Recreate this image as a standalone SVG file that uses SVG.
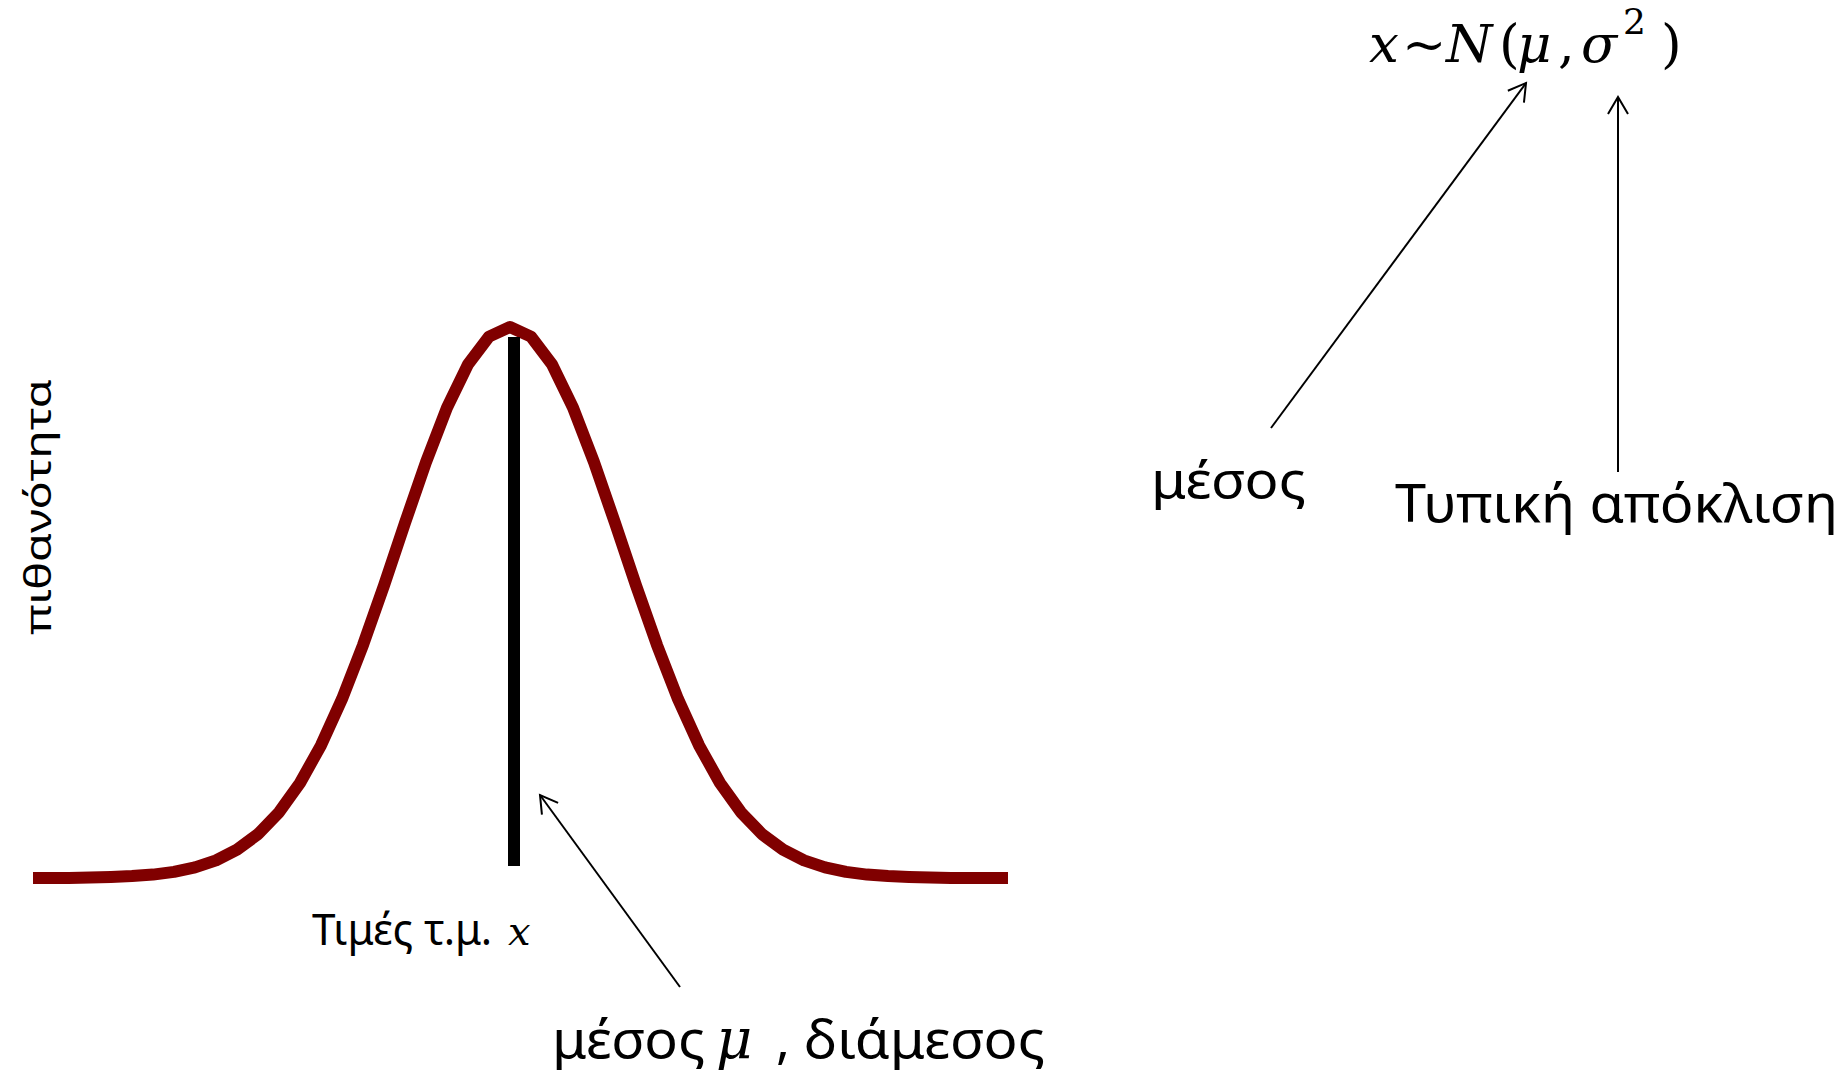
<svg xmlns="http://www.w3.org/2000/svg" width="1846" height="1070" viewBox="0 0 1846 1070">
  <style>
    .lbl { font-family: "Noto Sans", "Open Sans", sans-serif; fill: #000; }
    .math { font-family: "DejaVu Serif", "Liberation Serif", serif; font-style: italic; fill: #000; }
    .conn { stroke: #000; stroke-width: 2; fill: none; }
  </style>
  <defs>
    <marker id="openArrow" markerUnits="userSpaceOnUse" markerWidth="24" markerHeight="24" viewBox="-20 -12 22 24" refX="0" refY="0" orient="auto">
      <path d="M -17 -10 L 0 0 L -17 10" fill="none" stroke="#000" stroke-width="2" stroke-linejoin="miter"/>
    </marker>
  </defs>
  <rect width="1846" height="1070" fill="#fff"/>

  <g id="curve">
    <polyline fill="none" stroke="#800000" stroke-width="12" stroke-linejoin="round" stroke-linecap="butt"
      points="33,878 69,877.9 90,877.5 111,877 132,876.1 153,874.6 174,871.9 195,867.4 216,860.4 237,849.7 258,834.2 279,812.3 300,783 321,745.3 342,699.1 363,645.1 384,585.4 405,522.9 426,462.1 447,407.6 468,364.4 489,336.6 510,327 531,336.6 552,364.4 573,407.6 594,462.1 615,522.9 636,585.4 657,645.1 678,699.1 699,745.3 720,783 741,812.3 762,834.2 783,849.7 804,860.4 825,867.4 846,871.9 867,874.6 888,876.1 909,877 930,877.5 951,877.9 1008,878"/>
  </g>

  <g id="mean-bar">
    <rect x="508" y="337" width="12" height="529" fill="#000"/>
  </g>

  <g id="y-axis-label">
    <text class="lbl" font-size="37" transform="translate(51,635) rotate(-90)" textLength="256" lengthAdjust="spacingAndGlyphs">πιθανότητα</text>
  </g>

  <g id="x-axis-label">
    <text class="lbl" x="312" y="945" font-size="44" textLength="180" lengthAdjust="spacingAndGlyphs">Τιμές τ.μ.</text>
    <text class="math" x="508" y="945" font-size="40">x</text>
  </g>

  <g id="median-label">
    <text class="lbl" x="552" y="1058" font-size="52" textLength="153" lengthAdjust="spacingAndGlyphs">μέσος</text>
    <text class="math" x="716" y="1058" font-size="56">μ</text>
    <text class="lbl" x="776" y="1058" font-size="52">,</text>
    <text class="lbl" x="804" y="1058" font-size="52" textLength="241" lengthAdjust="spacingAndGlyphs">διάμεσος</text>
  </g>

  <g id="formula">
    <text class="math" font-size="53" y="62">
      <tspan x="1369">x</tspan><tspan x="1402" font-style="normal">~</tspan><tspan x="1446">N</tspan><tspan x="1499" font-style="normal">(</tspan><tspan x="1517">μ</tspan><tspan x="1558" font-style="normal">,</tspan><tspan x="1581">σ</tspan><tspan x="1623" y="34" font-size="36" font-style="normal">2</tspan><tspan x="1661" y="62" font-style="normal">)</tspan>
    </text>
  </g>

  <g id="mean-label">
    <text class="lbl" x="1151" y="498" font-size="51" textLength="155" lengthAdjust="spacingAndGlyphs">μέσος</text>
  </g>

  <g id="sd-label">
    <text class="lbl" x="1395" y="522" font-size="53" textLength="443" lengthAdjust="spacingAndGlyphs">Τυπική απόκλιση</text>
  </g>

  <g id="connectors">
    <line class="conn" x1="680" y1="987" x2="540" y2="795" marker-end="url(#openArrow)"/>
    <line class="conn" x1="1271" y1="428" x2="1526" y2="83" marker-end="url(#openArrow)"/>
    <line class="conn" x1="1618" y1="472" x2="1618" y2="97" marker-end="url(#openArrow)"/>
  </g>
</svg>
